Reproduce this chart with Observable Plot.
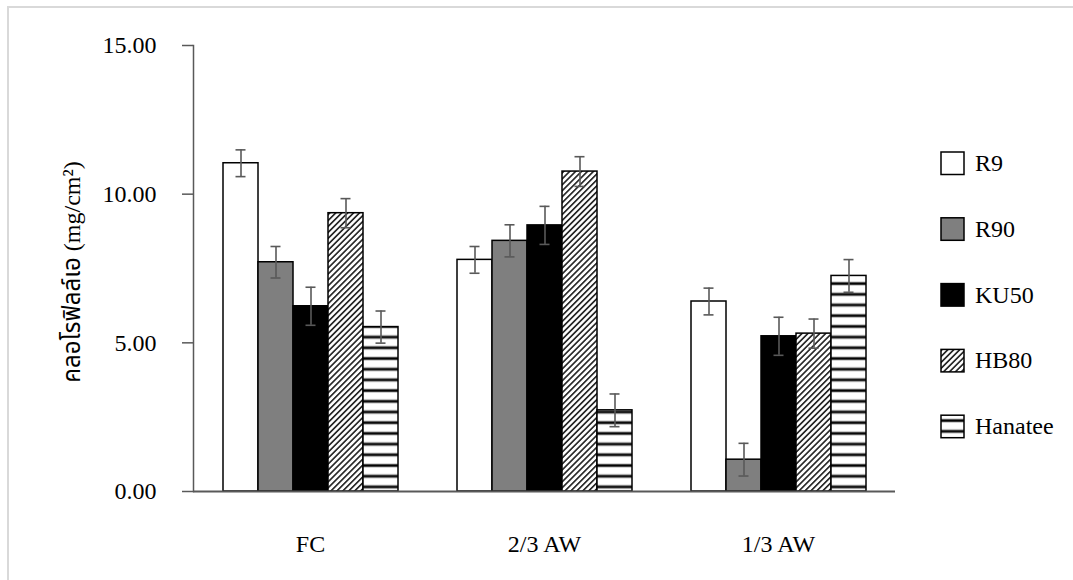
<!DOCTYPE html>
<html>
<head>
<meta charset="utf-8">
<script src="https://cdn.jsdelivr.net/npm/d3@7"></script>
<script src="https://cdn.jsdelivr.net/npm/@observablehq/plot@0.6"></script>
<style>
  html, body { margin: 0; padding: 0; background: #fff; }
  #wrap { position: relative; width: 1073px; height: 580px; overflow: hidden; font-family: "Liberation Serif", "Times New Roman", "Noto Sans Thai", serif; }
  #border { position: absolute; left: 7px; top: 6px; width: 1200px; height: 800px; border-top: 2px solid #d9d9d9; border-left: 2px solid #d9d9d9; }
  #overlay { position: absolute; left: 0; top: 0; pointer-events: none; }
  #chart { position: absolute; left: 0; top: 0; }
</style>
</head>
<body>
<div id="wrap">
  <div id="border"></div>
  <div id="chart"></div>
  <svg id="overlay" width="1073" height="580"></svg>
</div>
<script>
// ---- data ----
const categories = ["FC", "2/3 AW", "1/3 AW"];
const series = ["R9", "R90", "KU50", "HB80", "Hanatee"];
const r9 = [11.04, 7.79, 6.39];
const r90 = [7.71, 8.43, 1.07];
const ku50 = [6.23, 8.95, 5.22];
const hb80 = [9.36, 10.76, 5.31];
const hanatee = [5.53, 2.73, 7.25];
const r9Err = [0.45, 0.45, 0.45];
const r90Err = [0.53, 0.54, 0.55];
const ku50Err = [0.64, 0.64, 0.64];
const hb80Err = [0.49, 0.50, 0.49];
const hanateeErr = [0.54, 0.55, 0.55];
const yTicks = [0, 5, 10, 15];
const yTitle = "คลอโรฟิลล์เอ (mg/cm²)";

const seriesValues = [r9, r90, ku50, hb80, hanatee];
const seriesErrors = [r9Err, r90Err, ku50Err, hb80Err, hanateeErr];
const fills = ["white", "#7f7f7f", "black", "url(#pat-hatch)", "url(#pat-stripes)"];

const data = categories.flatMap((c, i) =>
  series.map((s, j) => ({category: c, series: s, value: seriesValues[j][i], err: seriesErrors[j][i]}))
);

// ---- patterns (defs) ----
const overlay = d3.select("#overlay");
const defs = overlay.append("defs");
const hatch = defs.append("pattern")
  .attr("id", "pat-hatch").attr("patternUnits", "userSpaceOnUse")
  .attr("width", 4.2).attr("height", 4.2).attr("patternTransform", "rotate(45)");
hatch.append("rect").attr("width", 4.2).attr("height", 4.2).attr("fill", "white");
hatch.append("rect").attr("x", 0).attr("width", 1.7).attr("height", 4.2).attr("fill", "#2a2a2a");
const stripes = defs.append("pattern")
  .attr("id", "pat-stripes").attr("patternUnits", "userSpaceOnUse")
  .attr("width", 10).attr("height", 10.7);
stripes.append("rect").attr("width", 10).attr("height", 10.7).attr("fill", "white");
stripes.append("rect").attr("y", 3.4).attr("width", 10).attr("height", 4).attr("fill", "#b0b0b0");
stripes.append("rect").attr("y", 4.3).attr("width", 10).attr("height", 2.2).attr("fill", "black");

// ---- chart ----
const axisColor = "#595959";
const chart = Plot.plot({
  width: 1073,
  height: 580,
  marginLeft: 192,
  marginRight: 178,
  marginTop: 45,
  marginBottom: 89,
  style: {fontFamily: "Liberation Serif, Times New Roman, serif", fontSize: "24px", color: "black", background: "transparent"},
  fx: {domain: categories, paddingInner: 0, paddingOuter: 0, label: null},
  x: {domain: series, paddingInner: 0, paddingOuter: 0.755, axis: null},
  y: {domain: [0, 15], label: null},
  color: {type: "ordinal", domain: series, range: fills},
  marks: [
    Plot.barY(data, {fx: "category", x: "series", y: "value", fill: "series", stroke: "black", strokeWidth: 1.5}),
    Plot.ruleX(data, {fx: "category", x: "series", y1: d => d.value - d.err, y2: d => d.value + d.err, stroke: axisColor, strokeWidth: 1.6}),
    Plot.tickY(data, {fx: "category", x: "series", y: d => d.value - d.err, stroke: axisColor, strokeWidth: 1.6, insetLeft: 12.5, insetRight: 12.5}),
    Plot.tickY(data, {fx: "category", x: "series", y: d => d.value + d.err, stroke: axisColor, strokeWidth: 1.6, insetLeft: 12.5, insetRight: 12.5}),
    Plot.ruleY([0], {stroke: axisColor, strokeWidth: 2}),
    Plot.frame({anchor: "left", facetAnchor: "left", stroke: axisColor, strokeWidth: 1.5}),
    Plot.axisY({ticks: yTicks, tickFormat: d3.format(".2f"), tickSize: 11, tickPadding: 26, stroke: axisColor, strokeWidth: 1.5, fill: "black", fontSize: 24, label: null}),
    Plot.axisFx({anchor: "bottom", tickSize: 0, tickPadding: 43, fontSize: 24, fill: "black", label: null})
  ]
});
document.getElementById("chart").appendChild(chart);

// ---- y title ----
overlay.append("text")
  .attr("transform", "translate(80,272) rotate(-90)")
  .attr("text-anchor", "middle")
  .attr("font-family", "Liberation Serif, Times New Roman, Noto Sans Thai, serif")
  .attr("font-size", 24)
  .attr("fill", "black")
  .text(yTitle);

// ---- legend ----
const legend = overlay.append("g").attr("transform", "translate(941,152)");
series.forEach((s, i) => {
  const g = legend.append("g").attr("transform", `translate(0,${i * 65.8})`);
  g.append("rect").attr("width", 23).attr("height", 22.5).attr("fill", fills[i]).attr("stroke", "black").attr("stroke-width", 1.5);
  g.append("text").attr("x", 34).attr("y", 19).attr("font-family", "Liberation Serif, Times New Roman, serif")
    .attr("font-size", 24).attr("fill", "black").text(s);
});
</script>
</body>
</html>
